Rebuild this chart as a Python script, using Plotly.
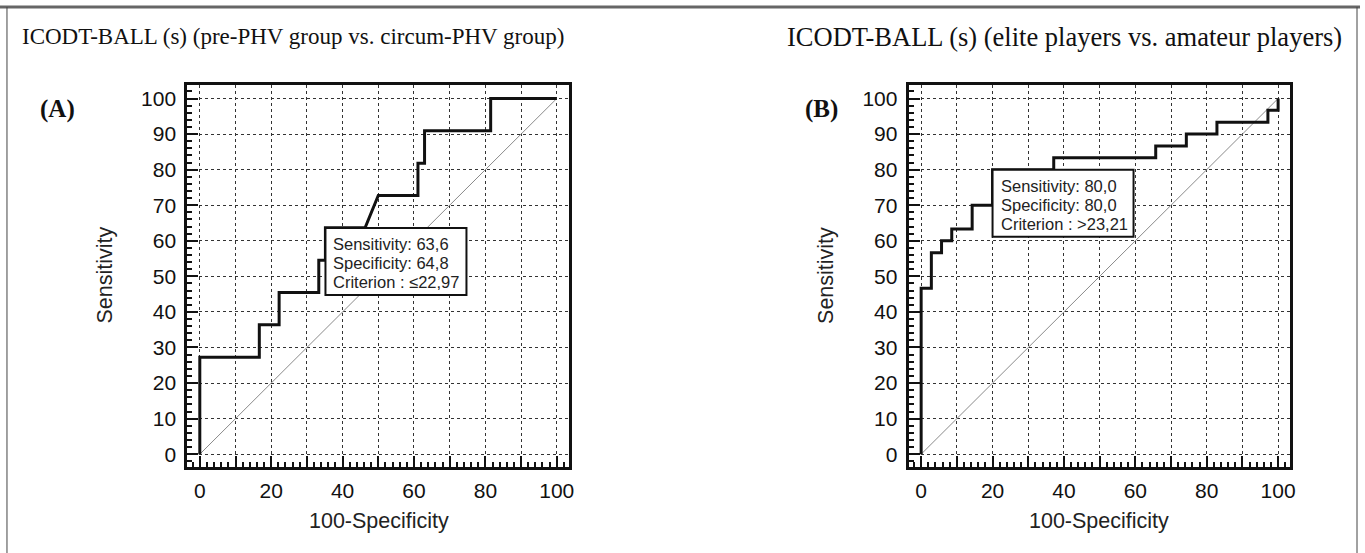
import plotly.graph_objects as go

W, H = 1365, 553

# ---------------- data ----------------
# Panel A: pre-PHV vs circum-PHV (ROC step curve, 100-Specificity vs Sensitivity)
a_fpr = [0, 0, 16.67, 16.67, 22.22, 22.22, 33.33, 33.33, 35.19, 35.19, 46.30, 50.0,
         61.11, 61.11, 62.96, 62.96, 81.48, 81.48, 100]
a_tpr = [0, 27.27, 27.27, 36.36, 36.36, 45.45, 45.45, 54.55, 54.55, 63.64, 63.64, 72.73,
         72.73, 81.82, 81.82, 90.91, 90.91, 100, 100]
a_point = (35.2, 63.6)
a_label = ["Sensitivity: 63,6", "Specificity: 64,8", "Criterion : \u226422,97"]
a_title = "ICODT-BALL (s) (pre-PHV group vs. circum-PHV group)"

# Panel B: elite vs amateur players
b_fpr = [0, 0, 2.86, 2.86, 5.71, 5.71, 8.57, 8.57, 14.29, 14.29, 20, 20, 37.14, 37.14,
         65.71, 65.71, 74.29, 74.29, 82.86, 82.86, 97.14, 97.14, 100, 100]
b_tpr = [0, 46.67, 46.67, 56.67, 56.67, 60, 60, 63.33, 63.33, 70, 70, 80, 80, 83.33,
         83.33, 86.67, 86.67, 90, 90, 93.33, 93.33, 96.67, 96.67, 100]
b_point = (20.0, 80.0)
b_label = ["Sensitivity: 80,0", "Specificity: 80,0", "Criterion : >23,21"]
b_title = "ICODT-BALL (s) (elite players vs. amateur players)"

ref_line = [0, 100]
x_ticks = list(range(0, 101, 10))
x_ticktext = [str(v) if v % 20 == 0 else "" for v in x_ticks]
y_ticks = list(range(0, 101, 10))
y_ticktext = [str(v) for v in y_ticks]

SANS = "Liberation Sans, Arial, sans-serif"
SERIF = "Liberation Serif, Times New Roman, serif"


def px(x):
    return x / W


def py(y):
    return 1 - y / H


fig = go.Figure()

for i, (fx, ty) in enumerate([(a_fpr, a_tpr), (b_fpr, b_tpr)]):
    xa = "x" if i == 0 else "x2"
    ya = "y" if i == 0 else "y2"
    fig.add_trace(go.Scatter(x=ref_line, y=ref_line, mode="lines", xaxis=xa, yaxis=ya,
                             line=dict(color="#8a8a8a", width=1), showlegend=False,
                             hoverinfo="skip"))
    fig.add_trace(go.Scatter(x=fx, y=ty, mode="lines", xaxis=xa, yaxis=ya,
                             line=dict(color="#111111", width=3), showlegend=False))


def xaxis_cfg(domain):
    return dict(domain=domain, range=[-3.5, 103.4], tickmode="array", tickvals=x_ticks,
                ticktext=x_ticktext, ticks="inside", ticklen=11, tickwidth=2,
                tickcolor="#111", showline=True, linecolor="#111", linewidth=3,
                mirror=True, showgrid=True, gridcolor="#333", gridwidth=1,
                griddash="dot", zeroline=False, ticklabelstandoff=3,
                tickfont=dict(family=SANS, size=21, color="#111"),
                minor=dict(dtick=2, ticks="inside", ticklen=5, tickwidth=1.5,
                           tickcolor="#111", showgrid=False),
                fixedrange=True)


def yaxis_cfg(domain, anchor):
    return dict(domain=domain, anchor=anchor, range=[-3.6, 103.8], tickmode="array",
                tickvals=y_ticks, ticktext=y_ticktext, ticks="inside", ticklen=11,
                tickwidth=2, tickcolor="#111", showline=True, linecolor="#111",
                linewidth=3, mirror=True, showgrid=True, gridcolor="#333",
                gridwidth=1, griddash="dot", zeroline=False, ticklabelstandoff=4,
                tickfont=dict(family=SANS, size=21, color="#111"),
                minor=dict(dtick=2, ticks="inside", ticklen=5, tickwidth=1.5,
                           tickcolor="#111", showgrid=False),
                fixedrange=True)


yd = [py(467), py(85)]
fig.update_layout(
    width=W, height=H, margin=dict(l=0, r=0, t=0, b=0),
    paper_bgcolor="white", plot_bgcolor="white", showlegend=False,
    xaxis=dict(xaxis_cfg([px(188), px(571)]), anchor="y"),
    yaxis=yaxis_cfg(yd, "x"),
    xaxis2=dict(xaxis_cfg([px(912), px(1295)]), anchor="y2"),
    yaxis2=yaxis_cfg(yd, "x2"),
)

ann = []
# panel titles
ann.append(dict(text=a_title, x=px(20), y=py(37), xref="paper", yref="paper",
                xanchor="left", yanchor="middle", showarrow=False,
                font=dict(family=SERIF, size=23, color="#111")))
ann.append(dict(text=b_title, x=px(788), y=py(37), xref="paper", yref="paper",
                xanchor="left", yanchor="middle", showarrow=False,
                font=dict(family=SERIF, size=26.5, color="#111")))
# panel letters
for lab, xx in [("(A)", 38), ("(B)", 806)]:
    ann.append(dict(text="<b>%s</b>" % lab, x=px(xx), y=py(109), xref="paper",
                    yref="paper", xanchor="left", yanchor="middle", showarrow=False,
                    font=dict(family=SERIF, size=25, color="#111")))
# axis titles
for xc in [105, 829]:
    ann.append(dict(text="Sensitivity", x=px(xc), y=py(275), xref="paper", yref="paper",
                    xanchor="center", yanchor="middle", textangle=-90, showarrow=False,
                    font=dict(family=SANS, size=21.5, color="#222")))
for xc in [380, 1103]:
    ann.append(dict(text="100-Specificity", x=px(xc), y=py(521), xref="paper",
                    yref="paper", xanchor="center", yanchor="middle", showarrow=False,
                    font=dict(family=SANS, size=21.5, color="#222")))

# criterion boxes: box anchored at the operating point, sized in pixels
for (pt, lines, xa, ya) in [(a_point, a_label, "x", "y"), (b_point, b_label, "x2", "y2")]:
    fig.add_shape(type="rect", xref=xa, yref=ya, xsizemode="pixel", ysizemode="pixel",
                  xanchor=pt[0], yanchor=pt[1], x0=0, x1=141, y0=0, y1=-67,
                  line=dict(color="#111", width=2), fillcolor="white", layer="above")
    for k, line in enumerate(lines):
        ann.append(dict(text=line, x=pt[0], y=pt[1], xref=xa, yref=ya,
                        xanchor="left", yanchor="middle", align="left", showarrow=False,
                        xshift=6, yshift=-(16 + 19 * k),
                        font=dict(family=SANS, size=16.5, color="#222")))
fig.update_layout(annotations=ann)

# outer frame of the figure
fig.add_shape(type="line", xref="paper", yref="paper", x0=0, x1=1, y0=py(7), y1=py(7),
              line=dict(color="#666", width=3))
fig.add_shape(type="line", xref="paper", yref="paper", x0=px(7), x1=px(7), y0=0,
              y1=py(7), line=dict(color="#444", width=1))
fig.add_shape(type="line", xref="paper", yref="paper", x0=px(1362), x1=px(1362), y0=0,
              y1=py(7), line=dict(color="#444", width=1))

fig.write_html("out.html", config={"displayModeBar": False},
               post_script="document.body.style.margin='0';document.body.style.padding='0';")
